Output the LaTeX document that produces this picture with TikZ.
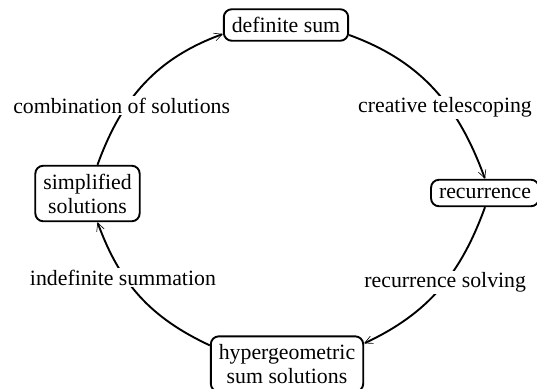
\documentclass[tikz,border=0pt]{standalone}
\usepackage{fontspec}
\setmainfont{Liberation Serif}
\usetikzlibrary{arrows.meta}
\begin{document}
\begin{tikzpicture}[x=1pt,y=1pt,
  font=\fontsize{21.8}{24}\selectfont,
  box/.style={draw, line width=1.9pt, rounded corners=8pt, inner xsep=8pt, inner ysep=8pt, align=center},
  arc/.style={line width=1.9pt, -{Straight Barb[length=8pt,width=8pt,line width=0.6pt]}},
  lab/.style={fill=white, inner sep=1.5pt}]
\useasboundingbox (0,0) rectangle (537,-388);
\node[box] (ds) at (286,-25) {definite sum};
\node[box] (rec) at (485,-193) {recurrence};
\node[box] (hyp) at (287,-364) {hypergeometric\\sum solutions};
\node[box] (simp) at (87.5,-193.5) {simplified\\solutions};
\draw[arc] ([yshift=-10pt]ds.east) to[out=-20, in=110]
  node[lab, pos=0.62, xshift=-4pt] (l1) {creative telescoping} (rec.north);
\draw[arc] (rec.south) to[out=-110, in=25]
  node[lab, pos=0.45] (l2) {recurrence solving} ([yshift=-8pt]hyp.north east);
\draw[arc] ([yshift=-10pt]hyp.north west) to[out=155, in=-70]
  node[lab, pos=0.65, xshift=-2pt] (l3) {indefinite summation} ([xshift=10pt]simp.south);
\draw[arc] ([xshift=10pt]simp.north) to[out=70, in=200]
  node[lab, pos=0.34, xshift=-5pt] (l4) {combination of solutions} ([yshift=-9pt]ds.west);
\end{tikzpicture}
\end{document}
